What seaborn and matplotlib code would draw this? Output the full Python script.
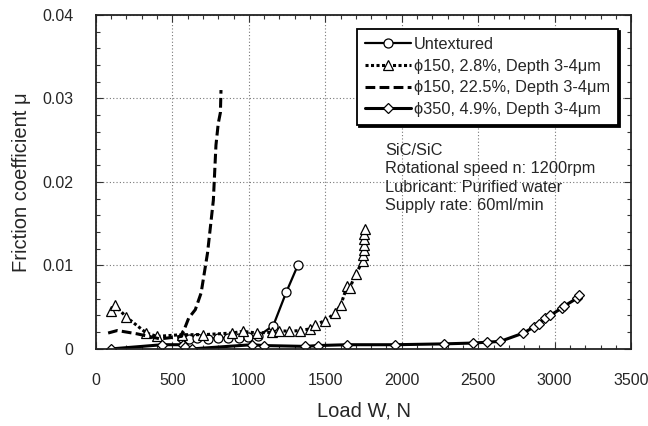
import matplotlib
matplotlib.use("Agg")
import matplotlib.pyplot as plt
import seaborn as sns
from matplotlib.ticker import MultipleLocator, FixedFormatter, FixedLocator

# Untextured (open circles, solid line)
load_untextured = [560, 610, 660, 730, 800, 865, 935, 995, 1060, 1160, 1245, 1320]
mu_untextured = [0.0013, 0.0012, 0.0013, 0.0012, 0.0013, 0.0013, 0.0013, 0.0014,
                 0.0015, 0.0028, 0.0068, 0.0100]

# phi150, 2.8%, depth 3-4um (open triangles, dotted line)
load_p150_28 = [100, 125, 200, 330, 400, 560, 700, 890, 960, 1054, 1151, 1200, 1260,
                1337, 1400, 1435, 1500, 1565, 1602, 1642, 1660, 1700, 1745, 1748,
                1750, 1752, 1754, 1756, 1757]
mu_p150_28 = [0.0045, 0.0052, 0.0038, 0.0019, 0.0015, 0.0017, 0.0017, 0.0019, 0.0021,
              0.0019, 0.0020, 0.0022, 0.0021, 0.0022, 0.0024, 0.0029, 0.0034, 0.0043,
              0.0053, 0.0075, 0.0073, 0.0090, 0.0105, 0.0112, 0.0118, 0.0125, 0.0132,
              0.0138, 0.0143]

# phi150, 22.5%, depth 3-4um (dashed line)
load_p150_225 = [80, 140, 270, 420, 560, 607, 650, 688, 730, 768, 785, 800, 814, 818]
mu_p150_225 = [0.0019, 0.0022, 0.0018, 0.0012, 0.0015, 0.0037, 0.0047, 0.0067,
               0.0115, 0.0178, 0.0244, 0.0270, 0.0283, 0.0310]

# phi350, 4.9%, depth 3-4um (open diamonds, solid line)
load_p350 = [100, 435, 572, 580, 626, 1021, 1097, 1369, 1450, 1642, 1957, 2273, 2465,
             2557, 2644, 2796, 2862, 2900, 2938, 2970, 3047, 3060, 3149, 3160]
mu_p350 = [0.0, 0.0005, 0.0005, 0.0002, 0.0, 0.0005, 0.0004, 0.0003, 0.0004, 0.0005,
           0.0005, 0.0006, 0.0007, 0.0008, 0.0009, 0.0019, 0.0026, 0.0030, 0.0037,
           0.0040, 0.0049, 0.0051, 0.0061, 0.0064]

x_ticks = [0, 500, 1000, 1500, 2000, 2500, 3000, 3500]
y_ticks = [0, 0.01, 0.02, 0.03, 0.04]
y_tick_labels = ["0", "0.01", "0.02", "0.03", "0.04"]

sns.set_style("ticks")
plt.rcParams["font.family"] = ["Liberation Sans", "DejaVu Sans"]

fig = plt.figure(figsize=(6.48, 4.26), dpi=100)
ax = fig.add_axes([0.148, 0.181, 0.826, 0.784])

sns.lineplot(x=load_untextured, y=mu_untextured, ax=ax, sort=False, estimator=None,
             color="black", linewidth=1.6, marker="o", markersize=6.5,
             markerfacecolor="white", markeredgecolor="black", markeredgewidth=0.9,
             label="Untextured")
sns.lineplot(x=load_p150_28, y=mu_p150_28, ax=ax, sort=False, estimator=None,
             color="black", linewidth=2.2, linestyle=(0, (1, 0.8)), marker="^",
             markersize=6.5, markerfacecolor="white", markeredgecolor="black",
             markeredgewidth=0.9, label="\u03d5150, 2.8%, Depth 3-4\u03bcm")
sns.lineplot(x=load_p150_225, y=mu_p150_225, ax=ax, sort=False, estimator=None,
             color="black", linewidth=2.2, linestyle=(0, (3.2, 1.4)),
             label="\u03d5150, 22.5%, Depth 3-4\u03bcm")
sns.lineplot(x=load_p350, y=mu_p350, ax=ax, sort=False, estimator=None,
             color="black", linewidth=2.2, marker="D", markersize=5.5,
             markerfacecolor="white", markeredgecolor="black", markeredgewidth=0.9,
             label="\u03d5350, 4.9%, Depth 3-4\u03bcm")

ax.set_xlim(0, 3500)
ax.set_ylim(0, 0.04)
ax.xaxis.set_major_locator(FixedLocator(x_ticks))
ax.yaxis.set_major_locator(FixedLocator(y_ticks))
ax.yaxis.set_major_formatter(FixedFormatter(y_tick_labels))
ax.xaxis.set_minor_locator(MultipleLocator(100))
ax.yaxis.set_minor_locator(MultipleLocator(0.002))
ax.tick_params(which="both", direction="in", top=True, right=True, labelsize=11.5,
               color="#333333")
ax.tick_params(which="major", length=5, width=0.8)
ax.tick_params(which="minor", length=3, width=0.8)
ax.tick_params(axis="y", which="major", pad=16)
ax.tick_params(axis="x", which="major", pad=17)
ax.grid(True, which="major", linestyle=(0, (1, 2)), color="#777777", linewidth=0.8)
for sp in ax.spines.values():
    sp.set_linewidth(1.3)
    sp.set_color("#222222")

ax.set_xlabel("Load W, N", fontsize=14.5, labelpad=10)
ax.set_ylabel("Friction coefficient \u03bc", fontsize=14.5, labelpad=8)

leg = ax.legend(loc="upper right", bbox_to_anchor=(0.976, 0.958), fontsize=11.8,
                frameon=True, fancybox=False, framealpha=1, edgecolor="black",
                handlelength=2.8, handletextpad=0.2, labelspacing=0.4,
                borderpad=0.5, borderaxespad=0,
                shadow={"color": "black", "alpha": 1, "ox": 1.5, "oy": -1.5})
leg.get_frame().set_linewidth(1.3)

ax.text(0.54, 0.617, "SiC/SiC\nRotational speed n: 1200rpm\nLubricant: Purified water\n"
        "Supply rate: 60ml/min", transform=ax.transAxes, fontsize=11.8,
        va="top", ha="left", linespacing=1.28)

fig.savefig("out.png", dpi=100)
